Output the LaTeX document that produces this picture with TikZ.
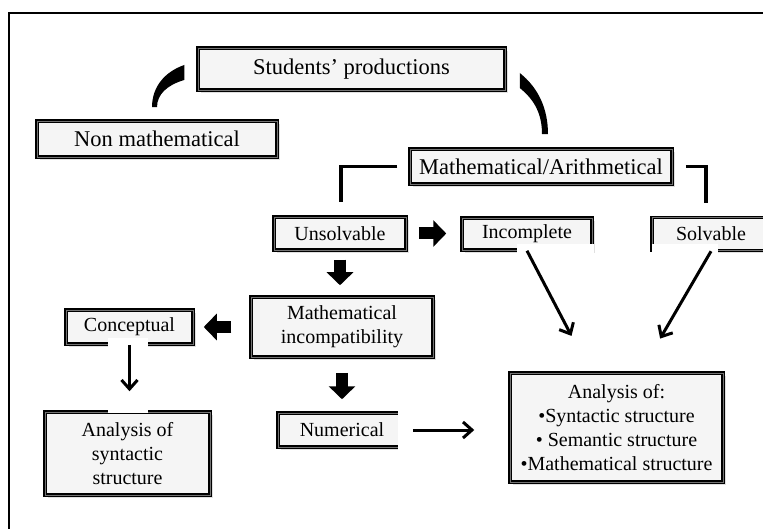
\documentclass[tikz,border=0pt]{standalone}
\usepackage{fontspec}
\setmainfont{Liberation Serif}
\usetikzlibrary{arrows.meta,calc,shadows}

\begin{document}
\begin{tikzpicture}[x=1pt,y=-1pt]
\tikzset{box/.style = {draw,line width=1.5pt,double=black!55,double distance=0.9pt,
  fill=black!4,inner sep=2pt,align=center,font=\fontsize{20}{24}\selectfont,
  drop shadow={shadow xshift=3pt,shadow yshift=-3pt,fill=black!20,opacity=.6}}}
\tikzset{bigtext/.style = {font=\fontsize{22.5}{26}\selectfont}}
\tikzset{blockarrow/.style = {line width=12pt,-{Triangle[length=13pt,width=26pt]}}}
\tikzset{link/.style = {line width=3pt,-{Straight Barb[length=9pt,width=16pt]}}}
\tikzset{bracket/.style = {line width=3.5pt}}
\tikzset{patch/.style = {fill=white}}

\useasboundingbox (0,0) rectangle (763,529);

%frame
\draw[line width=1.6pt] (9,545) -- (9,13) -- (775,13);

%vertices
\node[box, bigtext, minimum width=307pt, minimum height=42pt] (prod) at (351.5,69) {Students' productions};
\node[box, bigtext, minimum width=240pt, minimum height=36pt] (nonmath) at (157,139) {Non mathematical};
\node[box, bigtext, minimum width=262pt, minimum height=35pt] (matharith) at (541,166.5) {Mathematical/Arithmetical};
\node[box, minimum width=132pt, minimum height=33pt] (unsolv) at (340,233.5) {Unsolvable};
\node[box, minimum width=130pt, minimum height=32pt] (incomp) at (527,234) {Incomplete};
\node[box, minimum width=118pt, minimum height=33pt] (solv) at (711,234) {Solvable};
\node[box, minimum width=182pt, minimum height=60pt] (mathinc) at (342,327) {Mathematical\\incompatibility};
\node[box, minimum width=127pt, minimum height=34pt] (concept) at (129.5,327) {Conceptual};
\node[box, minimum width=128pt, minimum height=34pt] (numer) at (342,430) {Numerical};
\node[box, minimum width=165pt, minimum height=83pt] (synt) at (127.5,453.5) {Analysis of\\syntactic\\structure};
\node[box, minimum width=213pt, minimum height=109pt] (analysis) at (616.5,427.5)
  {Analysis of:\\\textbullet Syntactic structure\\\textbullet{} Semantic structure\\\textbullet Mathematical structure};

%white patches
\fill[patch] (517,244) rectangle (594,260);
\fill[patch] (652,244) rectangle (718,262);
\fill[patch] (108,338) rectangle (148,413);
\fill[patch] (398,408) rectangle (412,454);

%curved connectors
\coordinate (l1) at ($(prod.west)+(-13,-4)$);
\coordinate (l2) at ($(nonmath.north)+(-5,-13)$);
\fill (l1) .. controls +(-20,7) and +(0,-20) .. (l2) -- ++(5,0)
  .. controls +(0,-13) and +(-17,5) .. ($(l1)+(0,15)$) -- cycle;
\coordinate (r1) at ($(prod.east)+(14,4)$);
\coordinate (r2) at ($(matharith.north)+(7,-14)$);
\fill (r1) .. controls +(19,15) and +(0,-25) .. (r2) -- ++(-6,0)
  .. controls +(0,-20) and +(15,12) .. ($(r1)+(0,15)$) -- cycle;

%edges
\draw[bracket, shorten >=14pt] ([xshift=-12pt]matharith.west) -| ([xshift=1pt]unsolv.north);
\draw[bracket, shorten >=14pt] ([xshift=13pt]matharith.east) -| ([xshift=-5pt]solv.north);
\draw[blockarrow, shorten <=9pt, shorten >=11pt] (unsolv.south) -- (unsolv.south |- mathinc.north);
\draw[blockarrow, shorten <=12pt, shorten >=15pt] (unsolv.east) -- (unsolv.east -| incomp.west);
\draw[blockarrow, shorten <=19pt, shorten >=10pt] (mathinc.west) -- (mathinc.west -| concept.east);
\draw[blockarrow, shorten <=15pt, shorten >=13pt] (mathinc.south) -- (mathinc.south |- numer.north);
\draw[link, shorten >=20pt] (concept.south) -- (concept.south |- synt.north);
\draw[link, shorten <=6pt, shorten >=35pt] (numer.east) -- (numer.east -| analysis.west);
\draw[link, shorten >=41pt] (incomp.south) -- ([xshift=-26pt]analysis.north);
\draw[link, shorten >=39pt] (solv.south) -- ([xshift=24pt]analysis.north);

\end{tikzpicture}
\end{document}
